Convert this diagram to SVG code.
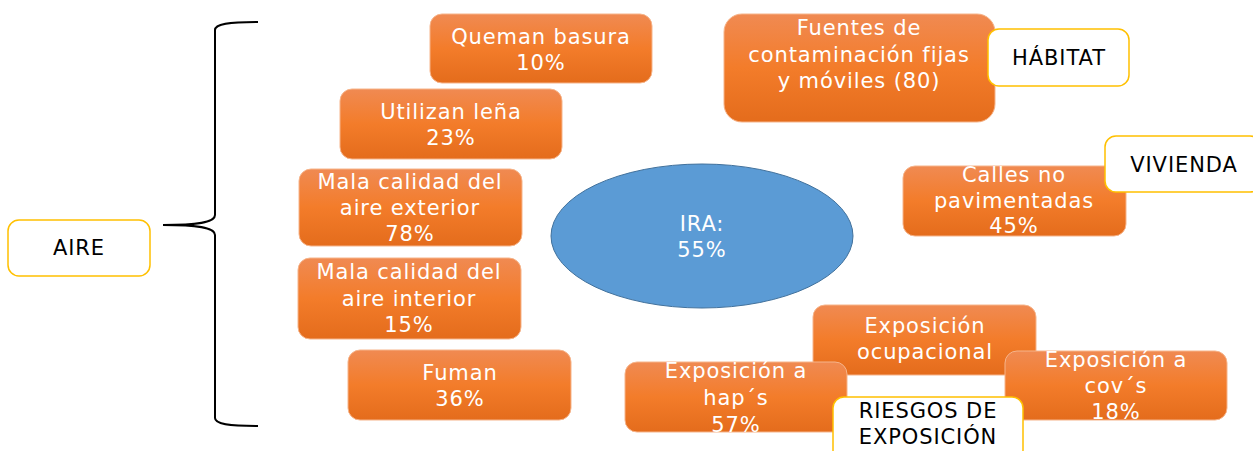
<svg xmlns="http://www.w3.org/2000/svg" width="1253" height="451" viewBox="0 0 1253 451">
<defs>
<linearGradient id="og" x1="0" y1="0" x2="0" y2="1">
<stop offset="0" stop-color="#F08A52"/>
<stop offset="0.5" stop-color="#F37C2A"/>
<stop offset="1" stop-color="#E46C1C"/>
</linearGradient>
<style>
.ob{fill:url(#og);stroke:#F6B48A;stroke-width:1}
.wb{fill:#FFFFFF;stroke:#FFC000;stroke-width:1.5}
.wt{font-family:"DejaVu Sans",sans-serif;font-size:21px;letter-spacing:0.9px;fill:#FFFFFF;text-anchor:middle}
.bt{font-family:"DejaVu Sans",sans-serif;font-size:21px;letter-spacing:0.9px;fill:#000000;text-anchor:middle}
.conn{fill:none;stroke:#000000;stroke-width:2}
</style>
</defs>
<rect width="1253" height="451" fill="#FFFFFF"/>
<g id="connectors">
<path class="conn" d="M258,22 C228,22 215,24 215,30 L215,215 C215,221 205,225 163,225 C205,225 215,229 215,235 L215,418 C215,424 228,426 258,426"/>
</g>
<g id="aire">
<rect class="wb" x="8" y="220" width="142" height="56" rx="11"/>
<text class="bt" x="79" y="255">AIRE</text>
</g>
<g id="queman">
<rect class="ob" x="430" y="14" width="222" height="69" rx="12"/>
<text class="wt" x="541" y="44">Queman basura</text>
<text class="wt" x="541" y="70">10%</text>
</g>
<g id="lena">
<rect class="ob" x="340" y="89" width="222" height="70" rx="12"/>
<text class="wt" x="451" y="119">Utilizan leña</text>
<text class="wt" x="451" y="145">23%</text>
</g>
<g id="exterior">
<rect class="ob" x="299" y="169" width="223" height="77" rx="12"/>
<text class="wt" x="410" y="189">Mala calidad del</text>
<text class="wt" x="410" y="215">aire exterior</text>
<text class="wt" x="410" y="241">78%</text>
</g>
<g id="interior">
<rect class="ob" x="298" y="258" width="223" height="81" rx="12"/>
<text class="wt" x="409" y="279">Mala calidad del</text>
<text class="wt" x="409" y="306">aire interior</text>
<text class="wt" x="409" y="332">15%</text>
</g>
<g id="fuman">
<rect class="ob" x="348" y="350" width="223" height="70" rx="12"/>
<text class="wt" x="460" y="380">Fuman</text>
<text class="wt" x="460" y="406">36%</text>
</g>
<g id="fuentes">
<rect class="ob" x="724" y="14" width="271" height="108" rx="18"/>
<text class="wt" x="859" y="35">Fuentes de</text>
<text class="wt" x="859" y="62">contaminación fijas</text>
<text class="wt" x="859" y="88">y móviles (80)</text>
</g>
<g id="habitat">
<rect class="wb" x="988" y="29" width="141" height="57" rx="11"/>
<text class="bt" x="1059" y="65">HÁBITAT</text>
</g>
<g id="calles">
<rect class="ob" x="903" y="166" width="223" height="70" rx="12"/>
<text class="wt" x="1014" y="182">Calles no</text>
<text class="wt" x="1014" y="208">pavimentadas</text>
<text class="wt" x="1014" y="233">45%</text>
</g>
<g id="vivienda">
<rect class="wb" x="1105" y="136" width="156" height="56" rx="11"/>
<text class="bt" x="1184" y="172">VIVIENDA</text>
</g>
<g id="ira">
<ellipse cx="702" cy="236" rx="151" ry="72" fill="#5B9BD5" stroke="#41719C" stroke-width="1"/>
<text class="wt" x="702" y="231">IRA:</text>
<text class="wt" x="702" y="257">55%</text>
</g>
<g id="ocupacional">
<rect class="ob" x="813" y="305" width="223" height="70" rx="12"/>
<text class="wt" x="925" y="333">Exposición</text>
<text class="wt" x="925" y="359">ocupacional</text>
</g>
<g id="haps">
<rect class="ob" x="625" y="362" width="222" height="70" rx="12"/>
<text class="wt" x="736" y="378">Exposición a</text>
<text class="wt" x="736" y="405">hap´s</text>
<text class="wt" x="736" y="432">57%</text>
</g>
<g id="covs">
<rect class="ob" x="1005" y="351" width="222" height="69" rx="12"/>
<text class="wt" x="1116" y="367">Exposición a</text>
<text class="wt" x="1116" y="393">cov´s</text>
<text class="wt" x="1116" y="419">18%</text>
</g>
<g id="riesgos">
<rect class="wb" x="833" y="397" width="190" height="64" rx="11"/>
<text class="bt" x="928" y="418">RIESGOS DE</text>
<text class="bt" x="928" y="444">EXPOSICIÓN</text>
</g>
</svg>
